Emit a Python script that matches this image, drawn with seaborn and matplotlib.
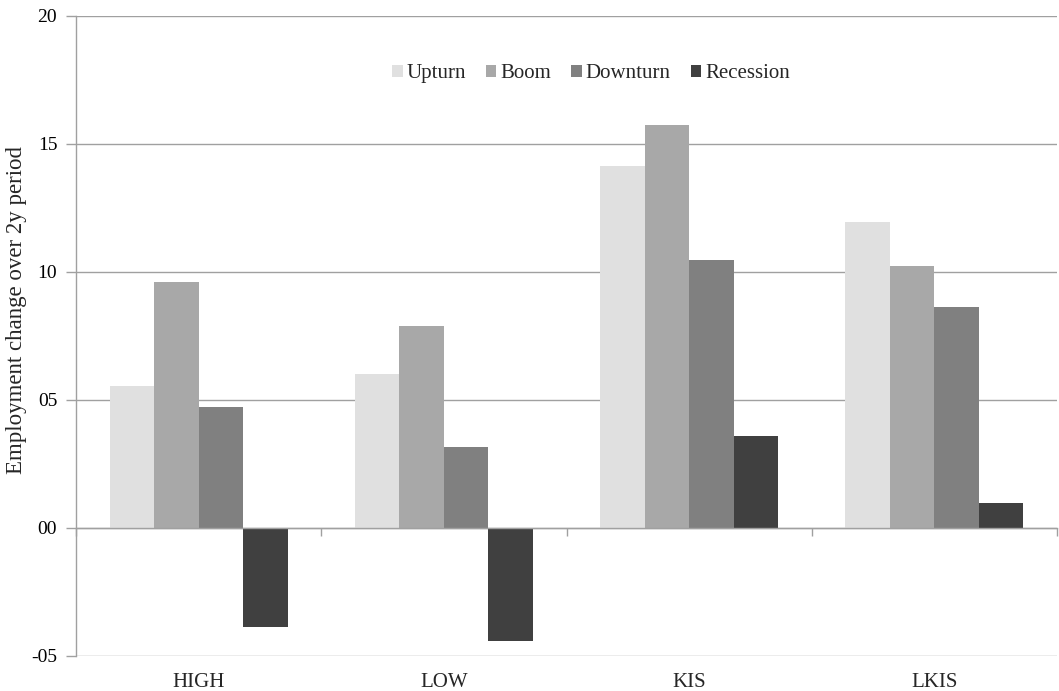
import matplotlib
matplotlib.use("Agg")
import matplotlib.pyplot as plt
import seaborn as sns
import pandas as pd
from matplotlib.ticker import FuncFormatter

categories = ["HIGH", "LOW", "KIS", "LKIS"]
phases = ["Upturn", "Boom", "Downturn", "Recession"]
upturn = [5.55, 6.02, 14.14, 11.95]
boom = [9.61, 7.89, 15.74, 10.25]
downturn = [4.73, 3.16, 10.47, 8.63]
recession = [-3.88, -4.41, 3.59, 0.99]
colors = ["#e0e0e0", "#a8a8a8", "#808080", "#404040"]

rows = []
for phase, vals in zip(phases, [upturn, boom, downturn, recession]):
    for c, v in zip(categories, vals):
        rows.append({"Category": c, "Phase": phase, "Value": v})
df = pd.DataFrame(rows)

sns.set_theme(style="white")
plt.rcParams["font.family"] = ["Liberation Serif", "DejaVu Serif"]

fig = plt.figure(figsize=(10.59, 6.91), dpi=100)
ax = fig.add_axes([76 / 1059, 35 / 691, 981 / 1059, 640 / 691])

sns.barplot(data=df, x="Category", y="Value", hue="Phase", order=categories,
            hue_order=phases, palette=colors, width=0.725, linewidth=0,
            saturation=1, ax=ax, zorder=3)

gray = "#a0a0a0"
ax.set_ylim(-5, 20)
ax.set_xlim(-0.5, 3.5)
ax.set_yticks([-5, 0, 5, 10, 15, 20])
ax.yaxis.set_major_formatter(FuncFormatter(lambda v, p: "%03d" % v if v < 0 else "%02d" % v))
ax.yaxis.grid(True, color=gray, linewidth=1, zorder=0)
ax.set_axisbelow(True)
for s in ["top", "right"]:
    ax.spines[s].set_visible(False)
ax.spines["left"].set_color(gray)
ax.spines["left"].set_linewidth(1)
ax.spines["bottom"].set_position(("data", 0))
ax.spines["bottom"].set_color(gray)
ax.spines["bottom"].set_linewidth(1)
ax.spines["bottom"].set_zorder(4)
ax.set_xticks([-0.5, 0.5, 1.5, 2.5, 3.5])
ax.set_xticklabels([])
ax.tick_params(axis="x", direction="out", length=6, color=gray, width=1, bottom=True)
ax.tick_params(axis="y", direction="out", length=7, color=gray, width=1, left=True,
               labelsize=14, labelcolor="black", pad=6.5)

sec = ax.secondary_xaxis(0.0)
sec.set_xticks(range(len(categories)))
sec.set_xticklabels(categories)
sec.tick_params(length=0, labelsize=15, pad=12)
sec.spines["bottom"].set_visible(False)

ax.set_xlabel("")
ax.set_ylabel("Employment change over 2y period", fontsize=16.5)
ax.yaxis.set_label_coords(-0.050, 0.54)

leg = ax.legend(loc="center", bbox_to_anchor=(0.525, 0.91), ncol=4, frameon=False,
                fontsize=15, handlelength=0.5, handleheight=0.5, handletextpad=0.2,
                columnspacing=0.95)

fig.savefig("out.png", dpi=100)
